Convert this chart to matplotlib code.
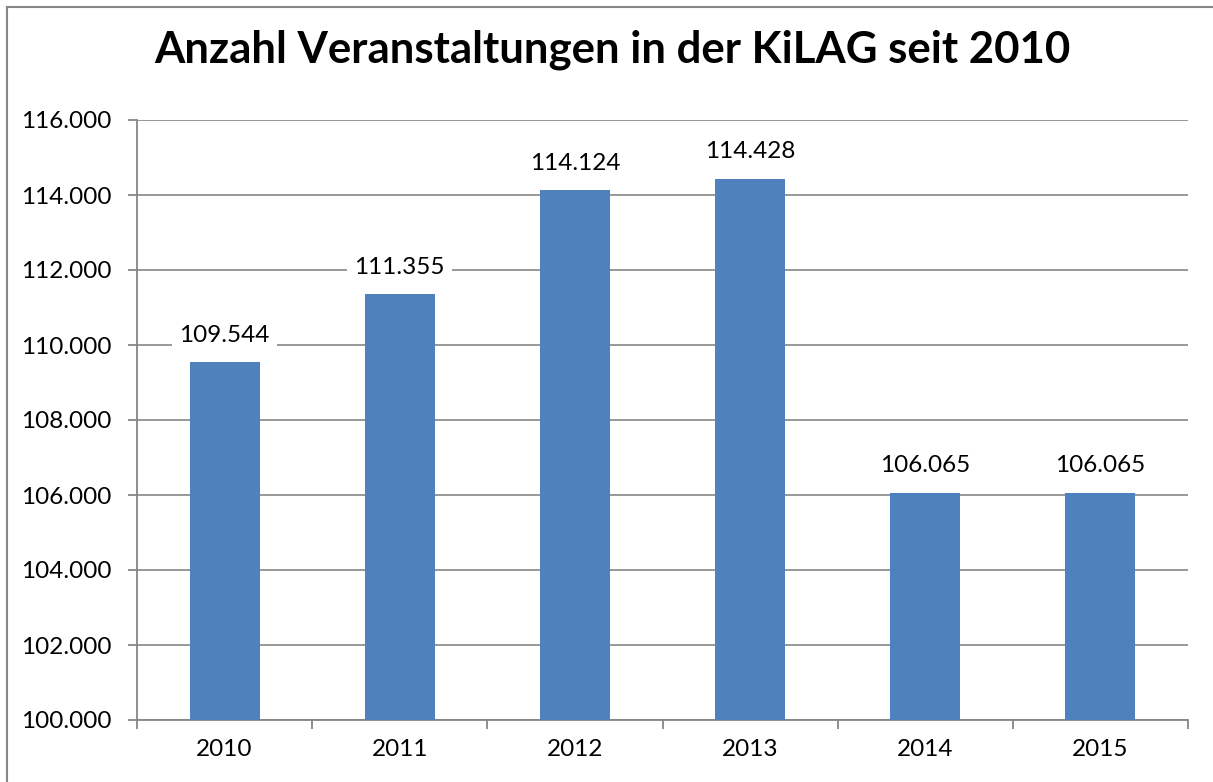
import matplotlib
matplotlib.use("Agg")
import matplotlib.pyplot as plt
from matplotlib.lines import Line2D

# data
years = ["2010", "2011", "2012", "2013", "2014", "2015"]
events = [109544, 111355, 114124, 114428, 106065, 106065]
yticks = [100000, 102000, 104000, 106000, 108000, 110000, 112000, 114000, 116000]


def de_fmt(v):
    # German thousands separator
    return f"{v:,.0f}".replace(",", ".")


plt.rcParams['font.family'] = ['Lato', 'DejaVu Sans']

fig = plt.figure(figsize=(12.13, 7.82), dpi=100)
ax = fig.add_axes([137 / 1213, 62 / 782, 1051 / 1213, 600 / 782])

x = range(len(years))
ax.bar(x, events, width=0.4, color="#4F81BD", zorder=3)

ax.set_ylim(100000, 116000)
ax.set_xlim(-0.5, len(years) - 0.5)
ax.set_yticks(yticks)
ax.set_yticklabels([de_fmt(t) for t in yticks], fontsize=17.5)
ax.set_xticks(list(x))
ax.set_xticklabels(years, fontsize=17.5)
ax.tick_params(axis="x", length=0, pad=14)
ax.tick_params(axis="y", length=6.5, color="#868686", width=1.3, pad=12)

# tick marks between categories on the x axis
ax.set_xticks([i - 0.5 for i in range(len(years) + 1)], minor=True)
ax.tick_params(axis="x", which="minor", length=6.5, color="#868686", width=1.3)

ax.grid(axis="y", color="#868686", linewidth=1.2, zorder=0)
for side in ["top", "right"]:
    ax.spines[side].set_visible(False)
for side in ["left", "bottom"]:
    ax.spines[side].set_color("#868686")
    ax.spines[side].set_linewidth(1.3)

for i, v in zip(x, events):
    ax.annotate(de_fmt(v), (i, v), xytext=(0, 19.5), textcoords="offset points",
                ha="center", va="center", fontsize=17.5, zorder=5,
                bbox=dict(boxstyle="square,pad=0.3", fc="white", ec="none"))

fig.text(0.505, 0.937, "Anzahl Veranstaltungen in der KiLAG seit 2010",
         ha="center", va="center", fontsize=31.5, fontweight="bold")

# outer chart border (left and top visible)
fig.add_artist(Line2D([7 / 1213, 7 / 1213], [0, 1 - 7 / 782], color="#868686", lw=1.5))
fig.add_artist(Line2D([7 / 1213, 1], [1 - 7 / 782, 1 - 7 / 782], color="#868686", lw=1.5))

fig.savefig("out.png", dpi=100)
